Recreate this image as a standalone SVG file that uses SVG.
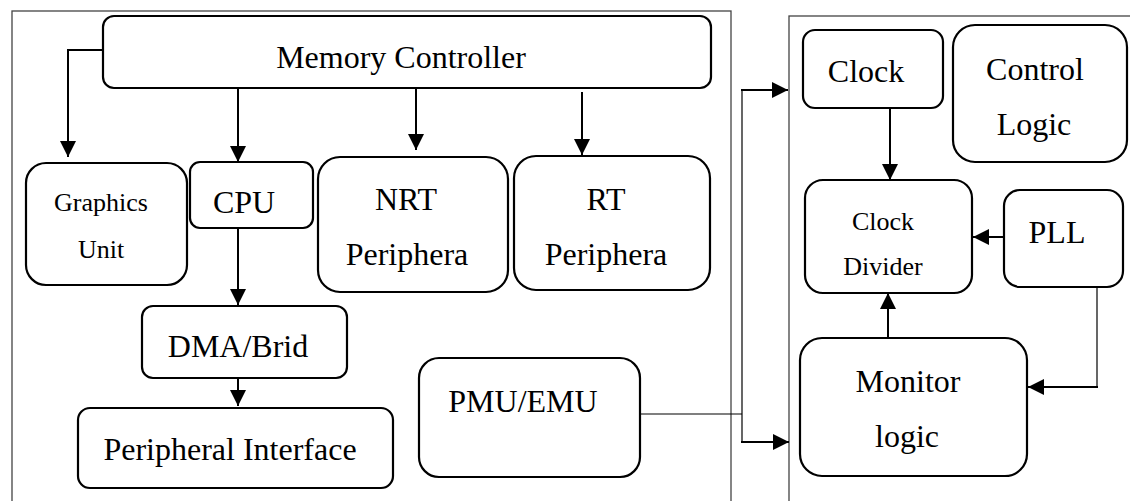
<svg xmlns="http://www.w3.org/2000/svg" width="1130" height="501" viewBox="0 0 1130 501">
<defs>
<style>
.frame{fill:none;stroke:#444;stroke-width:1.3}
.box{fill:#fff;stroke:#000;stroke-width:2.2}
.t{font-family:'Liberation Serif','DejaVu Serif',serif;font-size:32px;fill:#000;text-anchor:middle}
.s{font-size:26px}
.c{fill:none;stroke:#000;stroke-width:2}
.thin{fill:none;stroke:#000;stroke-width:1.2}
</style>
<marker id="ah" markerUnits="userSpaceOnUse" markerWidth="16" markerHeight="16" refX="16" refY="8" orient="auto" viewBox="0 0 16 16">
<path d="M0,0 L16,8 L0,16 z" fill="#000"/>
</marker>
</defs>
<rect width="1130" height="501" fill="#fff"/>
<rect class="frame" x="12" y="11" width="719" height="520"/>
<rect class="frame" x="789" y="16" width="400" height="520"/>
<g id="connectors">
<polyline class="c" points="103,50 68,50 68,157" marker-end="url(#ah)"/>
<line class="c" x1="238" y1="88" x2="238" y2="162" marker-end="url(#ah)"/>
<line class="c" x1="416" y1="88" x2="416" y2="150" marker-end="url(#ah)"/>
<line class="c" x1="582" y1="92" x2="582" y2="155" marker-end="url(#ah)"/>
<line class="c" x1="238" y1="228" x2="238" y2="305" marker-end="url(#ah)"/>
<line class="c" x1="238" y1="378" x2="238" y2="406" marker-end="url(#ah)"/>
<polyline class="thin" points="640,414 742,414"/>
<line class="thin" x1="742" y1="90" x2="742" y2="442"/>
<line class="c" x1="741" y1="90" x2="788" y2="90" marker-end="url(#ah)"/>
<line class="c" x1="741" y1="442" x2="789" y2="442" marker-end="url(#ah)"/>
<line class="c" x1="890" y1="108" x2="890" y2="180" marker-end="url(#ah)"/>
<line class="c" x1="1003" y1="237" x2="973" y2="237" marker-end="url(#ah)"/>
<line class="c" x1="888" y1="338" x2="888" y2="293" marker-end="url(#ah)"/>
<line class="thin" x1="1097" y1="287" x2="1097" y2="387"/>
<line class="c" x1="1098" y1="387" x2="1028" y2="387" marker-end="url(#ah)"/>
</g>
<g id="memory-controller">
<rect class="box" x="103" y="16" width="608" height="72" rx="11"/>
<text class="t" font-family="Liberation Serif, serif" x="401" y="68">Memory Controller</text>
</g>
<g id="graphics-unit">
<rect class="box" x="26" y="163" width="161" height="122" rx="20"/>
<text class="t s" font-family="Liberation Serif, serif" x="101" y="211">Graphics</text>
<text class="t s" font-family="Liberation Serif, serif" x="101" y="258">Unit</text>
</g>
<g id="cpu">
<rect class="box" x="190" y="162" width="123" height="66" rx="10"/>
<text class="t" font-family="Liberation Serif, serif" x="244" y="213">CPU</text>
</g>
<g id="nrt-periphera">
<rect class="box" x="318" y="157" width="190" height="135" rx="22"/>
<text class="t" font-family="Liberation Serif, serif" x="406" y="210">NRT</text>
<text class="t" font-family="Liberation Serif, serif" x="407" y="265">Periphera</text>
</g>
<g id="rt-periphera">
<rect class="box" x="514" y="156" width="196" height="134" rx="22"/>
<text class="t" font-family="Liberation Serif, serif" x="606" y="210">RT</text>
<text class="t" font-family="Liberation Serif, serif" x="606" y="265">Periphera</text>
</g>
<g id="dma-brid">
<rect class="box" x="142" y="306" width="205" height="72" rx="11"/>
<text class="t" font-family="Liberation Serif, serif" x="238" y="357">DMA/Brid</text>
</g>
<g id="peripheral-interface">
<rect class="box" x="78" y="408" width="315" height="80" rx="12"/>
<text class="t" font-family="Liberation Serif, serif" x="230" y="460">Peripheral Interface</text>
</g>
<g id="pmu-emu">
<rect class="box" x="419" y="358" width="221" height="119" rx="20"/>
<text class="t" font-family="Liberation Serif, serif" x="523" y="412">PMU/EMU</text>
</g>
<g id="clock">
<rect class="box" x="803" y="30" width="140" height="78" rx="12"/>
<text class="t" font-family="Liberation Serif, serif" x="866" y="82">Clock</text>
</g>
<g id="control-logic">
<rect class="box" x="953" y="25" width="174" height="137" rx="22"/>
<text class="t" font-family="Liberation Serif, serif" x="1035" y="80">Control</text>
<text class="t" font-family="Liberation Serif, serif" x="1034" y="135">Logic</text>
</g>
<g id="clock-divider">
<rect class="box" x="805" y="180" width="167" height="113" rx="18"/>
<text class="t s" font-family="Liberation Serif, serif" x="883" y="230">Clock</text>
<text class="t s" font-family="Liberation Serif, serif" x="883" y="275">Divider</text>
</g>
<g id="pll">
<rect class="box" x="1004" y="190" width="119" height="97" rx="16"/>
<text class="t" font-family="Liberation Serif, serif" x="1057" y="243">PLL</text>
</g>
<g id="monitor-logic">
<rect class="box" x="800" y="338" width="227" height="138" rx="22"/>
<text class="t" font-family="Liberation Serif, serif" x="908" y="392">Monitor</text>
<text class="t" font-family="Liberation Serif, serif" x="907" y="447">logic</text>
</g>
</svg>
